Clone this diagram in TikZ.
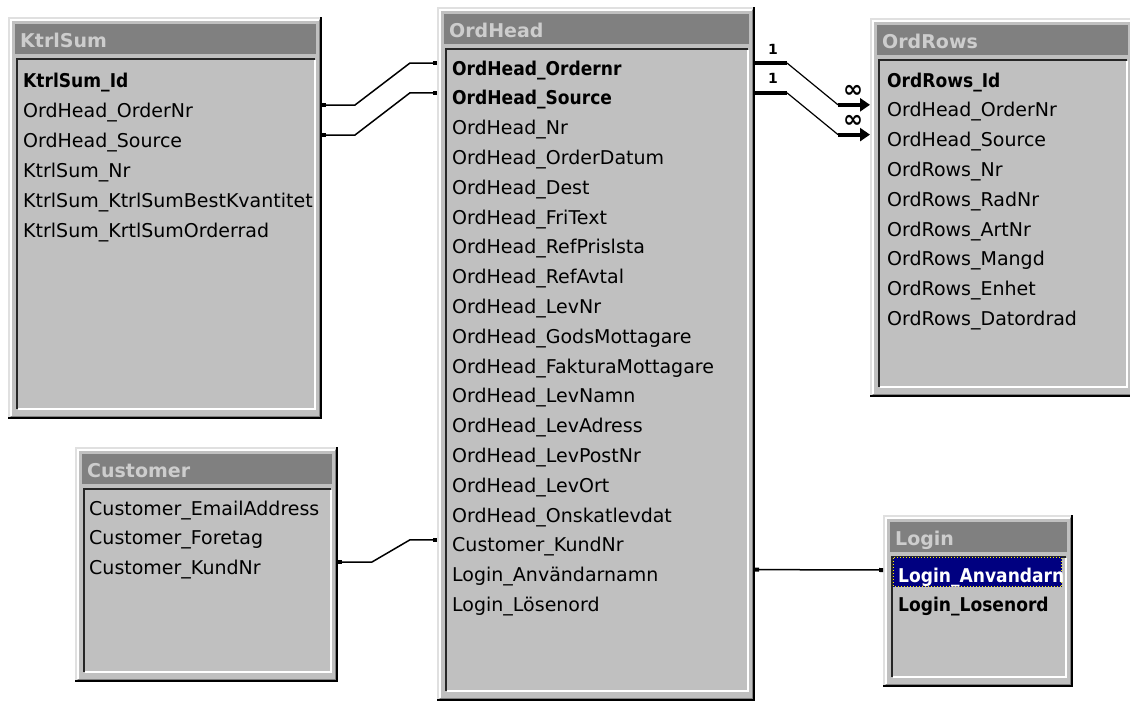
\documentclass[tikz,border=0pt]{standalone}
\usepackage{fontspec}
\setmainfont{DejaVu Sans}
\usetikzlibrary{arrows.meta, calc, math}
\definecolor{face}{RGB}{192,192,192}
\definecolor{bar}{RGB}{128,128,128}
\definecolor{bartext}{RGB}{205,205,205}
\definecolor{selblue}{RGB}{0,0,128}

\newcommand{\keyf}[1]{\scalebox{0.9}[1]{\bfseries #1}}

%table frame: name, x1, y1, x2, y2, title
\newcommand{\dbtable}[6]{
 \coordinate (#1-nw) at (#2,#3);
 \coordinate (#1-se) at (#4,#5);
 \fill[face] (#2,#3) rectangle (#4,#5);
 %raised outer edge
 \draw[line width=2, black!12] (#2+1,#5-1) -- (#2+1,#3+1) -- (#4-1,#3+1);
 \draw[line width=1.5, white] (#2+3,#5-3) -- (#2+3,#3+3) -- (#4-3,#3+3);
 \draw[line width=2] (#2,#5-1) -- (#4-1,#5-1) -- (#4-1,#3);
 \draw[line width=1, black!50] (#2+3,#5-2.5) -- (#4-2.5,#5-2.5) -- (#4-2.5,#3+3);
 %title bar
 \fill[bar] (#2+7,#3+7) rectangle (#4-6,#3+37);
 \node[title] (#1) at (#2+12,#3+30) {#6};
 %sunken field list
 \draw[line width=2, black!85] (#2+9,#5-10) -- (#2+9,#3+42) -- (#4-7,#3+42);
 \draw[line width=2, white] (#2+10,#5-10) -- (#4-7,#5-10) -- (#4-7,#3+43);
}

\begin{document}
\begin{tikzpicture}[x=1pt, y=-1pt,
 fld/.style={anchor=base west, inner sep=0, font=\fontsize{19}{22}\selectfont},
 title/.style={anchor=base west, inner sep=0, text=bartext, font=\fontsize{19}{22}\selectfont\bfseries},
 card/.style={inner sep=0, font=\fontsize{14}{15}\selectfont\bfseries},
 link/.style={line width=1.5, {Square[length=4pt,width=4pt]}-{Square[length=4pt,width=4pt]}},
 onebar/.style={line width=4},
 manyarrow/.style={line width=4, -{Triangle[length=10pt,width=13pt]}}]

\useasboundingbox (0,0) rectangle (1130,702);

\tikzmath{
\dy = 29.8;% row step
\up = 12;% link height above baseline
}

%tables
\dbtable{ks}{8}{17}{322}{419}{KtrlSum}
\foreach \t [count=\i] in {\keyf{KtrlSum\_Id}, OrdHead\_OrderNr, OrdHead\_Source, KtrlSum\_Nr, KtrlSum\_KtrlSumBestKvantitet, KtrlSum\_KrtlSumOrderrad}
 \node[fld] (ks-\i) at (23, 57+30*\i) {\t};

\dbtable{oh}{437}{7}{755}{701}{OrdHead}
\foreach \t [count=\i] in {\keyf{OrdHead\_Ordernr}, \keyf{OrdHead\_Source}, OrdHead\_Nr, OrdHead\_OrderDatum, OrdHead\_Dest, OrdHead\_FriText, OrdHead\_RefPrislsta, OrdHead\_RefAvtal, OrdHead\_LevNr, OrdHead\_GodsMottagare, OrdHead\_FakturaMottagare, OrdHead\_LevNamn, OrdHead\_LevAdress, OrdHead\_LevPostNr, OrdHead\_LevOrt, OrdHead\_Onskatlevdat, Customer\_KundNr, Login\_Användarnamn, Login\_Lösenord}
 \node[fld] (oh-\i) at (452, 45.2+\dy*\i) {\t};

\dbtable{or}{870}{18}{1134}{397}{OrdRows}
\foreach \t [count=\i] in {\keyf{OrdRows\_Id}, OrdHead\_OrderNr, OrdHead\_Source, OrdRows\_Nr, OrdRows\_RadNr, OrdRows\_ArtNr, OrdRows\_Mangd, OrdRows\_Enhet, OrdRows\_Datordrad}
 \node[fld] (or-\i) at (887, 57.2+\dy*\i) {\t};

\dbtable{cu}{75}{447}{338}{682}{Customer}
\foreach \t [count=\i] in {Customer\_EmailAddress, Customer\_Foretag, Customer\_KundNr}
 \node[fld] (cu-\i) at (89, 485.5+29.5*\i) {\t};

\dbtable{lg}{883}{515}{1073}{687}{Login}
%selected row
\fill[selblue] (893,557) rectangle (1062,587);
\draw[yellow, dotted, line width=1] (893.5,557.5) rectangle (1061.5,586.5);
\begin{scope}
 \clip (893,557) rectangle (1062,587);
 \node[fld, text=white] (lg-1) at (898, 582) {\keyf{Login\_Anvandarn}};
\end{scope}
\node[fld] (lg-2) at (898, 611) {\keyf{Login\_Losenord}};

%link ends
\coordinate (k2) at ($(ks-2.base -| ks-se)+(0,-\up)$);
\coordinate (k3) at ($(ks-3.base -| ks-se)+(0,-\up)$);
\coordinate (h1) at ($(oh-1.base -| oh-nw)+(0,-\up)$);
\coordinate (h2) at ($(oh-2.base -| oh-nw)+(0,-\up)$);
\coordinate (h1r) at ($(oh-1.base -| oh-se)+(0,-\up)$);
\coordinate (h2r) at ($(oh-2.base -| oh-se)+(0,-\up)$);
\coordinate (h17) at ($(oh-17.base -| oh-nw)+(0,-\up)$);
\coordinate (h18) at ($(oh-18.base -| oh-se)+(0,-\up)$);
\coordinate (r2) at ($(or-2.base -| or-nw)+(0,-\up)$);
\coordinate (r3) at ($(or-3.base -| or-nw)+(0,-\up)$);
\coordinate (c3) at ($(cu-3.base -| cu-se)+(0,-\up)$);
\coordinate (l1) at ($(lg-1.base -| lg-nw)+(0,-\up)$);

%KtrlSum to OrdHead
\draw[link] (k2) -- ++(33,0) -- ($(h1)+(-27,0)$) -- (h1);
\draw[link] (k3) -- ++(33,0) -- ($(h2)+(-27,0)$) -- (h2);

%OrdHead to OrdRows, one to many
\foreach \a/\b/\n in {h1r/r2/1, h2r/r3/2}{
 \draw[onebar] (\a) -- ++(32,0) coordinate (b\n);
 \node[card] (one\n) at ($(\a)+(18,-14)$) {1};
 \draw[line width=1.2] (b\n) -- ($(\b)+(-32,0)$) coordinate (m\n);
 \draw[manyarrow] (m\n) -- (\b);
 \node[card, font=\fontsize{24}{24}\selectfont\bfseries] (many\n) at ($(\b)+(-17,-13)$) {∞};
}

%Customer to OrdHead
\draw[link] (c3) -- ++(34,0) -- ($(h17)+(-27,0)$) -- (h17);

%OrdHead to Login
\draw[link] (h18) -- (l1);

\end{tikzpicture}
\end{document}
